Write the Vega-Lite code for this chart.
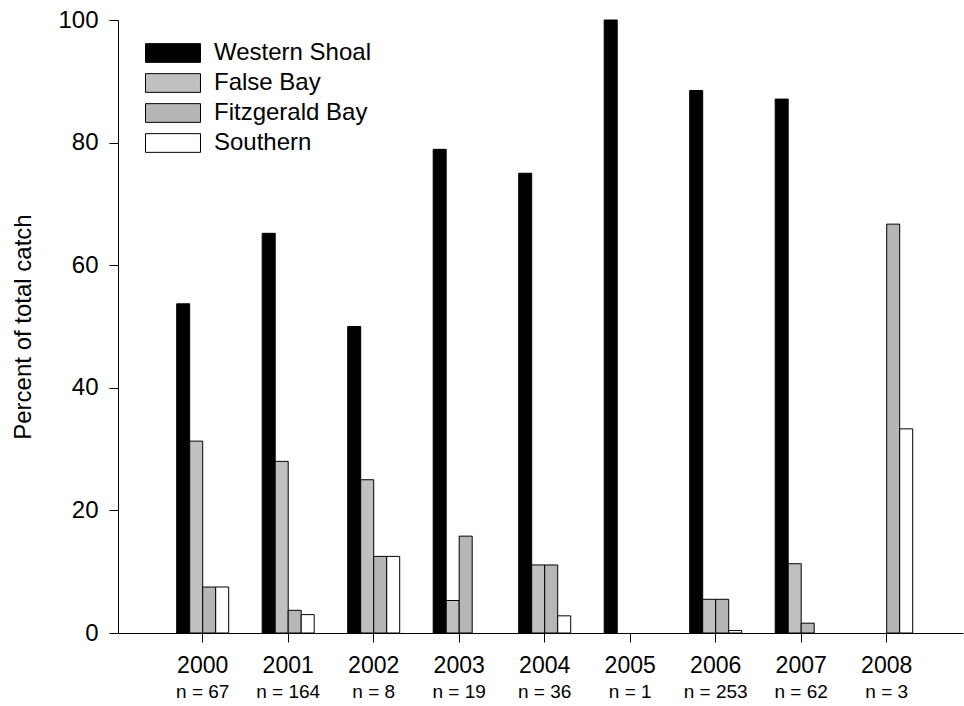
{
  "$schema": "https://vega.github.io/schema/vega-lite/v6.json",
  "autosize": "none",
  "width": 845,
  "height": 613,
  "padding": {"left": 118, "top": 20, "right": 1, "bottom": 73},
  "background": "white",
  "config": {
    "view": {"stroke": null},
    "font": "Liberation Sans",
    "axis": {"labelColor": "black", "titleColor": "black", "domainColor": "black", "tickColor": "black", "domainWidth": 1, "tickWidth": 1, "grid": false, "labelFont": "Liberation Sans", "titleFont": "Liberation Sans"}
  },
  "datasets": {
    "catch": [
      {"year": "2000", "region": "Western Shoal", "value": 53.7},
      {"year": "2000", "region": "False Bay", "value": 31.3},
      {"year": "2000", "region": "Fitzgerald Bay", "value": 7.5},
      {"year": "2000", "region": "Southern", "value": 7.5},
      {"year": "2001", "region": "Western Shoal", "value": 65.2},
      {"year": "2001", "region": "False Bay", "value": 28.0},
      {"year": "2001", "region": "Fitzgerald Bay", "value": 3.7},
      {"year": "2001", "region": "Southern", "value": 3.0},
      {"year": "2002", "region": "Western Shoal", "value": 50.0},
      {"year": "2002", "region": "False Bay", "value": 25.0},
      {"year": "2002", "region": "Fitzgerald Bay", "value": 12.5},
      {"year": "2002", "region": "Southern", "value": 12.5},
      {"year": "2003", "region": "Western Shoal", "value": 78.9},
      {"year": "2003", "region": "False Bay", "value": 5.3},
      {"year": "2003", "region": "Fitzgerald Bay", "value": 15.8},
      {"year": "2004", "region": "Western Shoal", "value": 75.0},
      {"year": "2004", "region": "False Bay", "value": 11.1},
      {"year": "2004", "region": "Fitzgerald Bay", "value": 11.1},
      {"year": "2004", "region": "Southern", "value": 2.8},
      {"year": "2005", "region": "Western Shoal", "value": 100.0},
      {"year": "2006", "region": "Western Shoal", "value": 88.5},
      {"year": "2006", "region": "False Bay", "value": 5.5},
      {"year": "2006", "region": "Fitzgerald Bay", "value": 5.5},
      {"year": "2006", "region": "Southern", "value": 0.4},
      {"year": "2007", "region": "Western Shoal", "value": 87.1},
      {"year": "2007", "region": "False Bay", "value": 11.3},
      {"year": "2007", "region": "Fitzgerald Bay", "value": 1.6},
      {"year": "2008", "region": "Fitzgerald Bay", "value": 66.7},
      {"year": "2008", "region": "Southern", "value": 33.3}
    ],
    "samples": [
      {"year": "2000", "n": "n = 67"},
      {"year": "2001", "n": "n = 164"},
      {"year": "2002", "n": "n = 8"},
      {"year": "2003", "n": "n = 19"},
      {"year": "2004", "n": "n = 36"},
      {"year": "2005", "n": "n = 1"},
      {"year": "2006", "n": "n = 253"},
      {"year": "2007", "n": "n = 62"},
      {"year": "2008", "n": "n = 3"}
    ]
  },
  "layer": [
    {
      "data": {"name": "catch"},
      "mark": {"type": "bar", "stroke": "black", "strokeWidth": 1},
      "encoding": {
        "x": {
          "field": "year", "type": "nominal",
          "scale": {"type": "band", "paddingInner": 0.3918, "paddingOuter": 0.6375, "align": 0.5385},
          "axis": {"orient": "bottom", "title": null, "labelAngle": 0, "labelFontSize": 23, "tickSize": 9, "labelPadding": 12, "labelBaseline": "top"}
        },
        "xOffset": {
          "field": "region", "type": "nominal",
          "sort": ["Western Shoal", "False Bay", "Fitzgerald Bay", "Southern"],
          "scale": {"domain": ["Western Shoal", "False Bay", "Fitzgerald Bay", "Southern"], "paddingInner": 0, "paddingOuter": 0}
        },
        "y": {
          "field": "value", "type": "quantitative",
          "scale": {"domain": [0, 100], "nice": false},
          "axis": {"values": [0, 20, 40, 60, 80, 100], "title": "Percent of total catch", "titleFontSize": 24, "titleFontWeight": "normal", "labelFontSize": 24, "tickSize": 9, "labelPadding": 11, "titlePadding": 22}
        },
        "fill": {
          "field": "region", "type": "nominal",
          "sort": ["Western Shoal", "False Bay", "Fitzgerald Bay", "Southern"],
          "scale": {"domain": ["Western Shoal", "False Bay", "Fitzgerald Bay", "Southern"], "range": ["#000000", "#c0c0c0", "#b6b6b6", "#ffffff"]},
          "legend": {
            "orient": "none", "legendX": 27, "legendY": 21, "title": null,
            "symbolType": "M-4,-1.36H4V1.36H-4Z", "symbolSize": 189,
            "symbolStrokeColor": "black", "symbolStrokeWidth": 1, "symbolOpacity": 1,
            "symbolOffset": 16, "labelOffset": 29, "labelFontSize": 24, "labelColor": "black",
            "labelFont": "Liberation Sans", "rowPadding": 6, "padding": 0, "labelLimit": 0
          }
        }
      }
    },
    {
      "data": {"name": "samples"},
      "mark": {"type": "point", "opacity": 0},
      "encoding": {
        "x": {
          "field": "n", "type": "nominal", "sort": null,
          "scale": {"type": "band", "paddingInner": 0.3918, "paddingOuter": 0.6375, "align": 0.5385},
          "axis": {"orient": "bottom", "title": null, "labelAngle": 0, "labelFontSize": 19, "ticks": false, "domain": false, "offset": 42, "labelPadding": 7, "labelBaseline": "top"}
        }
      }
    }
  ],
  "resolve": {"scale": {"x": "independent"}}
}
